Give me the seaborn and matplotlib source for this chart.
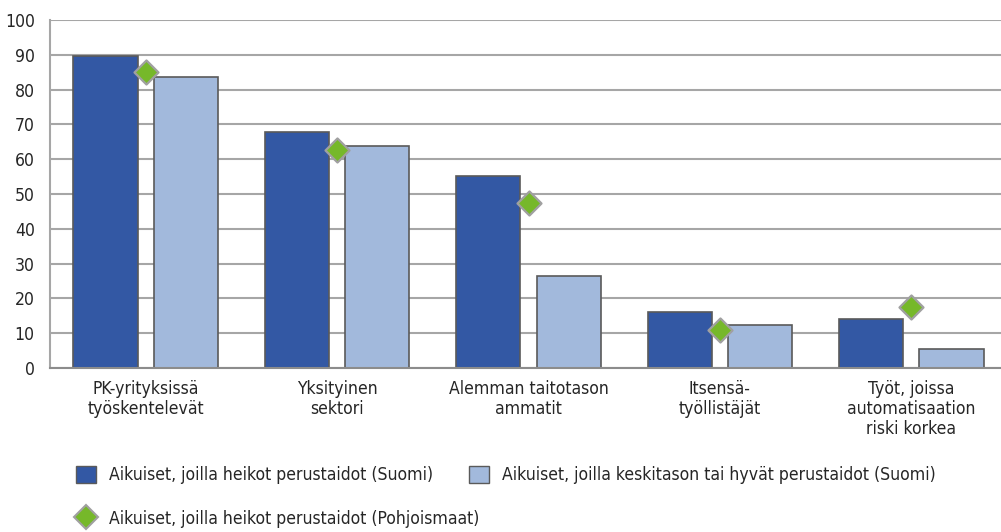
import matplotlib
matplotlib.use("Agg")
import matplotlib.pyplot as plt
from matplotlib.patches import Patch
from matplotlib.lines import Line2D
import seaborn as sns
import pandas as pd

# data
categories = ["PK-yrityksissä\ntyöskentelevät", "Yksityinen\nsektori",
              "Alemman taitotason\nammatit", "Itsensä-\ntyöllistäjät",
              "Työt, joissa\nautomatisaation\nriski korkea"]
heikot_suomi = [89.7, 67.9, 55.3, 16.1, 14.0]
hyvat_suomi = [83.6, 63.9, 26.3, 12.4, 5.5]
heikot_pohjoismaat = [85.1, 62.6, 47.5, 10.8, 17.4]
series_names = ["Aikuiset, joilla heikot perustaidot (Suomi)",
                "Aikuiset, joilla keskitason tai hyvät perustaidot (Suomi)",
                "Aikuiset, joilla heikot perustaidot (Pohjoismaat)"]

dark_blue = "#3358a4"
light_blue = "#a2b9dc"
green = "#76b82a"

sns.set_style("white")
plt.rcParams['font.family'] = ['DejaVu Sans']
plt.rcParams['font.stretch'] = 'condensed'
fs = 12.6

df = pd.DataFrame({
    "cat": categories * 2,
    "value": heikot_suomi + hyvat_suomi,
    "group": [series_names[0]] * 5 + [series_names[1]] * 5,
})

fig = plt.figure(figsize=(10.01, 5.32), dpi=100)
ax = fig.add_axes([50 / 1001, 164 / 532, 957 / 1001, 348 / 532])

sns.barplot(data=df, x="cat", y="value", hue="group", order=categories,
            hue_order=series_names[:2], palette=[dark_blue, light_blue],
            saturation=1, width=0.84, gap=0.2, edgecolor="#5a5a5a", linewidth=1.2,
            legend=False, ax=ax, zorder=2)

sns.scatterplot(x=categories, y=heikot_pohjoismaat, marker="D", s=150,
                color=green, edgecolor="#a0a0a0", linewidth=1.6,
                ax=ax, zorder=4, legend=False)

ax.set_ylim(0, 100)
ax.set_xlim(-0.5, 4.5)
ax.set_yticks(range(0, 101, 10))
ax.yaxis.grid(True, color="#a6a6a6", linewidth=1.5)
ax.set_axisbelow(True)
ax.tick_params(axis="both", length=0, labelsize=fs)
ax.tick_params(axis="y", pad=11)
ax.tick_params(axis="x", pad=9)
for lab in ax.get_xticklabels():
    lab.set_linespacing(1.13)
ax.set_xlabel("")
ax.set_ylabel("")
for side in ["top", "right"]:
    ax.spines[side].set_visible(False)
ax.spines["left"].set_color("#a6a6a6")
ax.spines["left"].set_linewidth(1.5)
ax.spines["bottom"].set_color("#8c8c8c")
ax.spines["bottom"].set_linewidth(1.5)

h1 = Patch(facecolor=dark_blue, edgecolor="#5a5a5a", linewidth=1.0)
h2 = Patch(facecolor=light_blue, edgecolor="#5a5a5a", linewidth=1.0)
h3 = Line2D([], [], marker="D", linestyle="none", markersize=12.5,
            markerfacecolor=green, markeredgecolor="#a0a0a0", markeredgewidth=1.5)

fig.legend([h1, h2], series_names[:2], loc="center left",
           bbox_to_anchor=(76 / 1001, 1 - 475 / 532), ncol=2,
           frameon=False, fontsize=fs, handlelength=1.15, handleheight=1.15,
           handletextpad=0.75, columnspacing=2.05, borderaxespad=0, borderpad=0)
fig.legend([h3], series_names[2:], loc="center left",
           bbox_to_anchor=(76 / 1001, 1 - 519 / 532),
           frameon=False, fontsize=fs, handlelength=1.15, handleheight=1.15,
           handletextpad=0.75, borderaxespad=0, borderpad=0)

fig.savefig("out.png", dpi=100)
